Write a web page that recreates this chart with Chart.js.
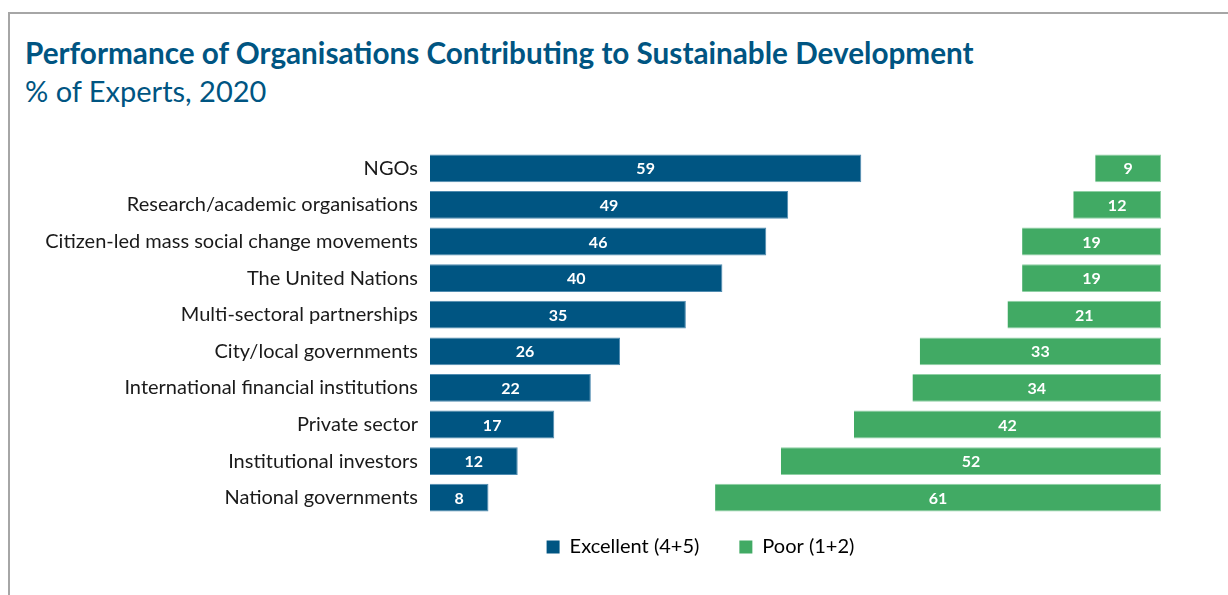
<!DOCTYPE html>
<html>
<head>
<meta charset="utf-8">
<script src="https://cdn.jsdelivr.net/npm/chart.js@4"></script>
<style>
  html, body { margin: 0; padding: 0; background: #fff; }
  #wrap { position: relative; width: 1228px; height: 595px; overflow: hidden; }
  #frame { position: absolute; left: 8px; top: 12px; width: 1230px; height: 600px;
           border-left: 2px solid #a6a6a6; border-top: 2px solid #a6a6a6; }
  #title { position: absolute; left: 25px; top: 35px; font-family: Lato, sans-serif;
           font-weight: bold; font-size: 29.7px; color: #005582; white-space: nowrap; }
  #subtitle { position: absolute; left: 25px; top: 73px; font-family: Lato, sans-serif;
           font-size: 29px; color: #005582; white-space: nowrap; }
  #chart { position: absolute; left: 0; top: 0; }
</style>
</head>
<body>
<div id="wrap">
  <div id="frame"></div>
  <div id="title">Performance of Organisations Contributing to Sustainable Development</div>
  <div id="subtitle">% of Experts, 2020</div>
  <canvas id="chart" width="1228" height="595"></canvas>
</div>
<script>
// data
const categories = ['NGOs', 'Research/academic organisations', 'Citizen-led mass social change movements',
    'The United Nations', 'Multi-sectoral partnerships', 'City/local governments',
    'International financial institutions', 'Private sector', 'Institutional investors', 'National governments'];
const excellent = [59, 49, 46, 40, 35, 26, 22, 17, 12, 8];
const poor = [9, 12, 19, 19, 21, 33, 34, 42, 52, 61];

const blue = '#005582';
const green = '#41aa64';

// poor bars sit at the right end of a 0-100 axis
const poorRanges = poor.map(function(p) { return [100 - p, 100]; });

const valueLabels = {
    id: 'valueLabels',
    afterDatasetsDraw: function(chart) {
        const ctx = chart.ctx;
        ctx.save();
        ctx.fillStyle = '#fff';
        ctx.font = 'bold 16px "Liberation Sans Narrow", Lato, sans-serif';
        ctx.textAlign = 'center';
        ctx.textBaseline = 'middle';
        const sources = [excellent, poor];
        chart.data.datasets.forEach(function(ds, i) {
            chart.getDatasetMeta(i).data.forEach(function(bar, j) {
                const left = Math.min(bar.x, bar.base);
                const right = Math.max(bar.x, bar.base);
                ctx.fillText(sources[i][j], (left + right) / 2, bar.y + 1);
            });
        });
        ctx.restore();
    }
};

// move the legend up towards the bars and right, under the plot
const legendShift = {
    id: 'legendShift',
    afterLayout: function(chart) {
        chart.legend.top -= 19;
        chart.legend.bottom -= 19;
        chart.legend.left += 120;
        chart.legend.right += 120;
    }
};

const ctx = document.getElementById('chart').getContext('2d');
const chart = new Chart(ctx, {
    type: 'bar',
    data: {
        labels: categories,
        datasets: [{
            label: 'Excellent (4+5)',
            data: excellent,
            backgroundColor: blue,
            borderColor: '#4f8bb0',
            borderWidth: 1,
            grouped: false,
            barPercentage: 0.76,
            categoryPercentage: 1
        }, {
            label: 'Poor (1+2)',
            data: poorRanges,
            backgroundColor: green,
            borderColor: '#8fd0a4',
            borderWidth: 1,
            grouped: false,
            barPercentage: 0.76,
            categoryPercentage: 1
        }]
    },
    options: {
        indexAxis: 'y',
        responsive: false,
        animation: false,
        layout: { padding: { top: 150, right: 67, bottom: 9, left: 0 } },
        scales: {
            x: { display: false, min: 0, max: 100 },
            y: {
                grid: { display: false },
                border: { display: false },
                ticks: {
                    padding: 4,
                    color: '#1a1a1a',
                    font: { family: 'Lato, sans-serif', size: 20 }
                },
                afterFit: function(scale) { scale.width = 430; }
            }
        },
        plugins: {
            legend: {
                position: 'bottom',
                labels: {
                    boxWidth: 13,
                    boxHeight: 13,
                    padding: 40,
                    color: '#1a1a1a',
                    font: { family: 'Lato, sans-serif', size: 20 },
                    generateLabels: function(chart) {
                        return chart.data.datasets.map(function(ds, i) {
                            return { text: ds.label, fillStyle: ds.backgroundColor, strokeStyle: ds.backgroundColor,
                                     lineWidth: 0, datasetIndex: i };
                        });
                    }
                }
            },
            tooltip: { enabled: false }
        }
    },
    plugins: [valueLabels, legendShift]
});
</script>
</body>
</html>
